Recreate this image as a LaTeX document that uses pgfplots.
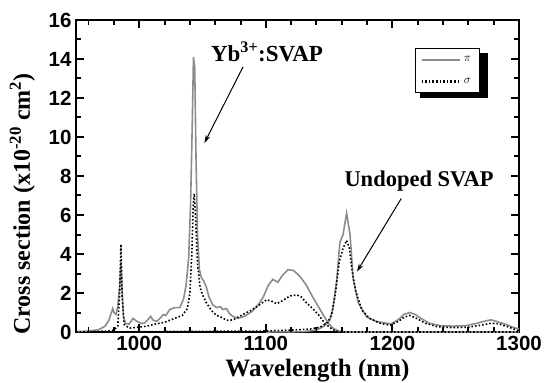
\documentclass[border=0pt]{standalone}
\usepackage{fontspec}
\setmainfont{Liberation Serif}
\newfontfamily\arialfont{Liberation Sans}
\usepackage{pgfplots}
\pgfplotsset{compat=1.18}
\usetikzlibrary{arrows.meta}
\definecolor{pigray}{gray}{0.55}
\begin{document}
\begin{tikzpicture}
\begin{axis}[
  name=ax,
  scale only axis, width=443pt, height=312pt,
  xmin=950, xmax=1300, ymin=0, ymax=16,
  xtick={1000,1100,1200,1300}, ytick={0,2,...,16},
  minor x tick num=4, minor y tick num=1,
  tick align=inside, major tick length=8pt, minor tick length=5pt,
  tick style={black, line width=2pt},
  axis line style={line width=1.8pt},
  /pgf/number format/assume math mode=true,
  /pgf/number format/1000 sep={},
  ticklabel style={font=\arialfont\bfseries\fontsize{20.5}{20.5}\selectfont},
  xticklabel style={yshift=-1pt},
  yticklabel style={xshift=-1pt},
  xlabel={\bfseries Wavelength (nm)},
  ylabel={\bfseries Cross section (x10\textsuperscript{-20} cm\textsuperscript{2})},
  xlabel style={font=\fontsize{25}{25}\selectfont, at={(axis description cs:0.545,0)}, anchor=base, yshift=-44pt},
  ylabel style={font=\fontsize{24}{24}\selectfont, at={([xshift=-46pt]axis description cs:0,0.41)}, anchor=base},
  legend style={at={(rel axis cs:0.765,0.91)}, anchor=north west, draw=black, line width=0.8pt,
    fill=white, font=\fontsize{12}{12}\selectfont, row sep=9pt, inner sep=5pt, nodes={inner sep=3pt}},
  legend image code/.code={\draw[#1, line width=2.6pt] (0pt,0pt) -- (38pt,0pt);},
  legend cell align=left,
]
\fill[black] ([xshift=5pt,yshift=-5pt]rel axis cs:0.765,0.91) rectangle ([xshift=5pt,yshift=-5pt]rel axis cs:0.919,0.766);
% doped pi
\addplot[pigray, line width=1.6pt] coordinates {
(950,0.02) (960,0.05) (968,0.12) (973,0.3) (976,0.6) (978,1.0) (979,1.2) (980,1.0) (981.5,0.9) (983,1.3) (984.5,2.4) (985.5,3.6) (986.5,2.0) (987.5,0.8) (989,0.45)
(992,0.4) (995,0.7) (998,0.55) (1001,0.45) (1004,0.45) (1007,0.65) (1009,0.8) (1011,0.6) (1014,0.55) (1017,0.75) (1019,0.9) (1021,0.85) (1024,1.15) (1028,1.25) (1032,1.25) (1035,1.7) (1037,2.4) (1039,3.8) (1040.5,6.5) (1041.8,10.5) (1042.8,14.1) (1043.8,13.6) (1044.8,9)
(1046,5) (1047.5,3.2) (1049,2.8) (1051,2.6) (1053,2.3) (1055,1.8) (1058,1.4) (1061,1.25) (1064,1.3) (1066,1.15) (1069,1.2) (1071,0.95) (1074,0.8) (1078,0.7) (1083,0.8) (1089,1.05) (1094,1.4) (1098,1.8) (1102,2.4) (1105.5,2.7) (1109.5,2.55) (1113,2.9) (1117.5,3.2) (1122,3.15) (1127,2.85) (1132,2.4) (1137,1.8) (1142,1.25) (1146,0.8) (1150,0.4) (1154,0.15) (1158,0.04) (1165,0.0) (1300,0.0)};
\addlegendentry{$\pi$}
% doped sigma
\addplot[black, line width=1.6pt, dotted] coordinates {
(950,0.0) (965,0.02) (975,0.05) (980,0.1) (983,0.3) (984.5,2.0) (985.5,4.5) (986.5,1.8) (988,0.4) (992,0.2) (1000,0.25) (1006,0.3) (1012,0.4) (1020,0.5) (1028,0.7) (1034,0.85) (1038,1.2) (1040,2.0) (1041.5,4.0) (1042.6,6.5) (1043.4,7.1) (1044.5,5.8) (1046,3.5) (1048,2.3) (1050,1.9) (1053,1.5) (1057,1.1) (1061,0.85) (1065,0.75) (1069,0.6) (1074,0.62) (1082,0.9) (1088,1.1) (1094,1.35) (1100.5,1.65) (1104,1.6) (1108.5,1.45) (1113,1.6) (1119,1.85) (1124.5,1.9) (1128,1.8) (1132,1.5) (1137,1.2) (1142,0.85) (1146,0.5) (1150,0.25) (1155,0.05) (1160,0.0) (1300,0.0)};
\addlegendentry{$\sigma$}
% undoped pi
\addplot[pigray, line width=1.6pt, forget plot] coordinates {
(1100,0.0) (1130,0.02) (1140,0.1) (1146,0.3) (1150.5,0.6) (1153,1.2) (1156,2.7) (1158.5,4.6) (1161,5.0) (1163.8,6.1) (1166.5,5.0) (1169,2.7) (1173,1.5) (1179.6,0.77) (1187,0.55) (1195,0.45) (1199,0.42) (1205,0.65) (1209,0.9) (1213.8,1.0) (1218,0.9) (1222,0.72) (1229,0.45) (1237.5,0.33) (1248,0.3) (1258.6,0.33) (1267,0.45) (1274.4,0.58) (1278,0.62) (1282,0.55) (1290,0.38) (1295,0.25) (1300,0.15)};
% undoped sigma
\addplot[black, line width=1.6pt, dotted, forget plot] coordinates {
(950,0.0) (1100,0.05) (1120,0.1) (1135,0.15) (1143,0.25) (1149,0.5) (1152,0.9) (1155,2.0) (1158,3.6) (1161,4.3) (1163.8,4.7) (1166,4.3) (1168,3.2) (1171,2.1) (1176,1.1) (1182,0.7) (1190,0.45) (1198,0.35) (1205,0.55) (1209,0.75) (1214,0.85) (1219,0.7) (1226,0.45) (1235,0.28) (1248,0.22) (1260,0.25) (1270,0.35) (1278,0.45) (1284,0.42) (1292,0.25) (1300,0.05)};
% tick marks
\pgfplotsinvokeforeach{1000,1100,1200}{
  \draw[black, line width=1.6pt] (axis cs:#1,0) -- ++(0pt,8pt);
  \draw[black, line width=1.6pt] (axis cs:#1,16) -- ++(0pt,-8pt);
}
\pgfplotsinvokeforeach{960,980,1020,1040,1060,1080,1120,1140,1160,1180,1220,1240,1260,1280}{
  \draw[black, line width=1.4pt] (axis cs:#1,0) -- ++(0pt,5pt);
  \draw[black, line width=1.4pt] (axis cs:#1,16) -- ++(0pt,-5pt);
}
\pgfplotsinvokeforeach{2,4,6,8,10,12,14}{
  \draw[black, line width=1.6pt] (axis cs:950,#1) -- ++(8pt,0pt);
  \draw[black, line width=1.6pt] (axis cs:1300,#1) -- ++(-8pt,0pt);
}
\pgfplotsinvokeforeach{1,3,5,7,9,11,13,15}{
  \draw[black, line width=1.4pt] (axis cs:950,#1) -- ++(5pt,0pt);
  \draw[black, line width=1.4pt] (axis cs:1300,#1) -- ++(-5pt,0pt);
}
\node[font=\bfseries\fontsize{23}{23}\selectfont] at (axis cs:1100.9,14.36) {Yb\textsuperscript{3+}:SVAP};
\node[font=\bfseries\fontsize{22.5}{22.5}\selectfont] at (axis cs:1221,7.75) {Undoped SVAP};
\draw[-{Stealth[length=8pt,width=5pt]}, line width=1pt] (axis cs:1082,13.6) -- (axis cs:1051.5,9.7);
\draw[-{Stealth[length=8pt,width=5pt]}, line width=1pt] (axis cs:1207,6.85) -- (axis cs:1172,3.1);
\end{axis}
\pgfresetboundingbox
\useasboundingbox ([xshift=-76pt,yshift=-50pt]ax.south west) rectangle ([xshift=33pt,yshift=20pt]ax.north east);
\end{tikzpicture}
\end{document}
